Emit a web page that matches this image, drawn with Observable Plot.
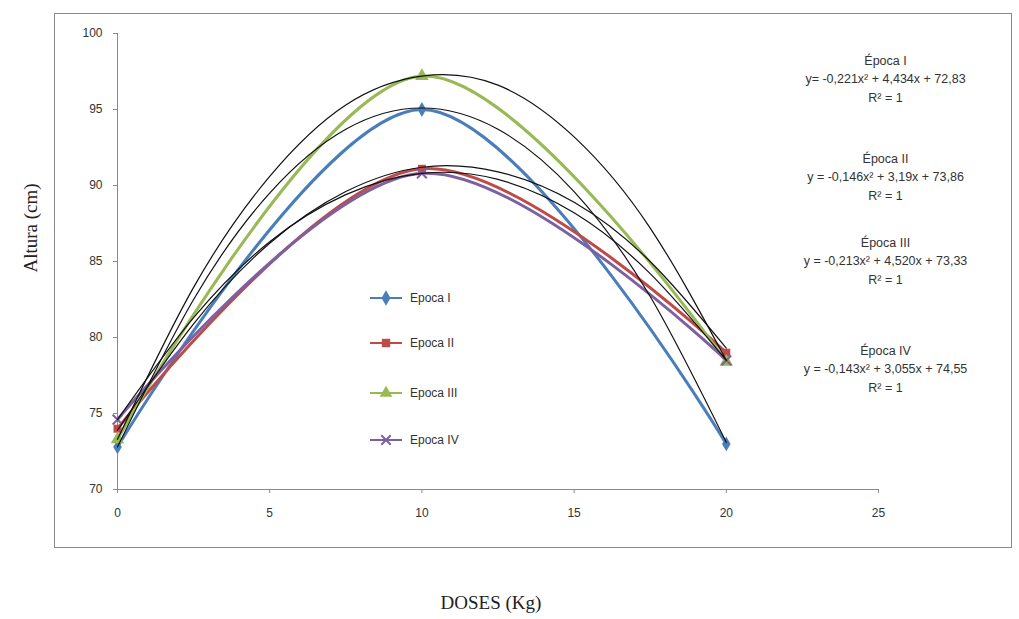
<!DOCTYPE html>
<html><head><meta charset="utf-8">
<script src="https://cdn.jsdelivr.net/npm/d3@7"></script>
<script src="https://cdn.jsdelivr.net/npm/@observablehq/plot@0.6"></script>
<style>
body{margin:0;background:#fff;}
#chart{position:relative;width:1019px;height:619px;}
</style></head>
<body><div id="chart"></div>
<script>
// Data
const doses = [0, 10, 20];
const series = ["Epoca I", "Epoca II", "Epoca III", "Epoca IV"];
const epocaI   = [72.8, 95.0, 73.0];
const epocaII  = [74.0, 91.1, 79.0];
const epocaIII = [73.3, 97.2, 78.4];
const epocaIV  = [74.6, 90.8, 78.5];
// Trend lines (black)
const trendX    = [0, 2.5, 5, 7.5, 10, 12.5, 15, 17.5, 20];
const trendI    = [72.8, 82.5, 89.5, 93.7, 95.1, 93.7, 89.6, 82.7, 73.1];
const trendII   = [73.9, 80.9, 86.2, 89.6, 91.2, 90.9, 88.9, 85.0, 79.3];
const trendIII  = [73.3, 83.3, 90.6, 95.3, 97.2, 96.6, 93.2, 87.2, 78.5];
const trendIV   = [74.6, 81.3, 86.3, 89.4, 90.8, 90.4, 88.2, 84.2, 78.5];
const equations = [
  "Época I\ny= -0,221x² + 4,434x + 72,83\nR² = 1",
  "Época II\ny = -0,146x² + 3,19x + 73,86\nR² = 1",
  "Época III\ny = -0,213x² + 4,520x + 73,33\nR² = 1",
  "Época IV\ny = -0,143x² + 3,055x + 74,55\nR² = 1"
];
const xTicks = [0, 5, 10, 15, 20, 25];
const yTicks = [70, 75, 80, 85, 90, 95, 100];

const colors = ["#4A7EBB", "#BE4B48", "#98B954", "#7D60A0"];
const symbols = ["diamond", "square", "triangle", "times"];
const markerSize = [4.5, 4.5, 5, 4.5];
const eqTop = [19, 117, 201, 309];

const vals = [epocaI, epocaII, epocaIII, epocaIV];
const trends = [trendI, trendII, trendIII, trendIV];
const pts = series.flatMap((s, i) => doses.map((d, j) => ({s, i, x: d, y: vals[i][j]})));
const tpts = series.flatMap((s, i) => trendX.map((d, j) => ({s, i, x: d, y: trends[i][j]})));

const font = "'Liberation Sans', Arial, sans-serif";
const marks = [
  Plot.ruleX([0], {y1: 70, y2: 100, stroke: "#8a8a8a"}),
  Plot.ruleY([70], {x1: 0, x2: 25, stroke: "#8a8a8a"}),
  Plot.axisX({ticks: xTicks, tickSize: 4, tickPadding: 15, stroke: "#8a8a8a", fill: "#333", fontSize: 12, label: null, fontFamily: font}),
  Plot.axisY({ticks: yTicks, tickSize: 4, tickPadding: 11, stroke: "#8a8a8a", fill: "#333", fontSize: 12, label: null, fontFamily: font}),
];
series.forEach((s, i) => {
  marks.push(Plot.line(pts.filter(d => d.i === i), {x: "x", y: "y", stroke: colors[i], strokeWidth: 3, curve: "catmull-rom"}));
});
series.forEach((s, i) => {
  const isStroke = symbols[i] === "times";
  marks.push(Plot.dot(pts.filter(d => d.i === i), {x: "x", y: "y", symbol: symbols[i], r: markerSize[i],
    fill: isStroke ? "none" : colors[i], stroke: isStroke ? colors[i] : "none", strokeWidth: 2}));
});
series.forEach((s, i) => {
  marks.push(Plot.line(tpts.filter(d => d.i === i), {x: "x", y: "y", stroke: "#111", strokeWidth: 1.2, curve: "natural"}));
});
equations.forEach((t, i) => {
  marks.push(Plot.text([t], {frameAnchor: "top-right", dx: 7, dy: eqTop[i], text: d => d, textAnchor: "middle",
    lineAnchor: "top", lineHeight: 1.45, fontSize: 12.5, fill: "#333", fontFamily: font}));
});
marks.push(Plot.text(["DOSES (Kg)"], {frameAnchor: "bottom", dx: -7, dy: 119, text: d => d, fontSize: 19,
  fontFamily: "'Liberation Serif', 'Times New Roman', serif", fill: "#222"}));
marks.push(Plot.text(["Altura (cm)"], {frameAnchor: "left", dx: -87, dy: 11, rotate: -90, text: d => d, fontSize: 19,
  fontFamily: "'Liberation Serif', 'Times New Roman', serif", fill: "#222"}));

const plot = Plot.plot({
  width: 1019, height: 619,
  marginLeft: 117, marginRight: 141, marginTop: 33, marginBottom: 130,
  x: {domain: [0, 25]},
  y: {domain: [70, 100]},
  style: {background: "#fff", fontFamily: font},
  marks
});
const svg = d3.select(plot);
svg.insert("rect", ":first-child").attr("x", 54.5).attr("y", 13.5).attr("width", 957).attr("height", 534)
  .attr("fill", "none").attr("stroke", "#8a8a8a");
// legend inside the plot
const lg = svg.append("g").attr("transform", "translate(370,298)");
const symMap = {diamond: d3.symbolDiamond, square: d3.symbolSquare, triangle: d3.symbolTriangle, times: d3.symbolTimes};
series.forEach((s, i) => {
  const g = lg.append("g").attr("transform", `translate(0,${[0, 45, 95, 142][i]})`);
  g.append("line").attr("x1", 0).attr("x2", 32).attr("stroke", colors[i]).attr("stroke-width", 2);
  const isStroke = symbols[i] === "times";
  g.append("path").attr("transform", "translate(16,0)")
    .attr("d", d3.symbol(symMap[symbols[i]], isStroke ? 60 : 70)())
    .attr("fill", isStroke ? "none" : colors[i]).attr("stroke", isStroke ? colors[i] : "none").attr("stroke-width", 2);
  g.append("text").attr("x", 40).attr("dy", "0.35em").attr("font-size", 12).attr("fill", "#333")
    .attr("text-anchor", "start").attr("font-family", font).text(s);
});
document.getElementById("chart").appendChild(plot);
</script>
</body></html>
